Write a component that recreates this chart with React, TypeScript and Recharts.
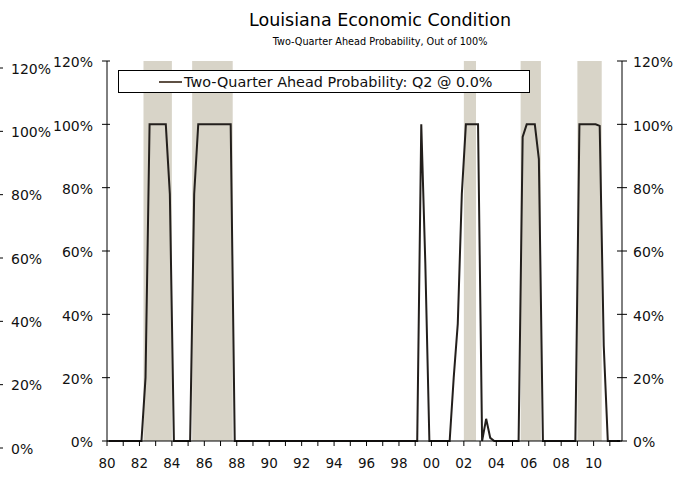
import React from 'react';
import {
  LineChart, Line, XAxis, YAxis, ReferenceArea,
} from 'recharts';

// quarterly probability (%), 1980Q1 .. 2011Q3
const startYear = 1980;
const probability = [
  0, 0, 0, 0, // 80
  0, 0, 0, 0, // 81
  0, 20, 100, 100, // 82
  100, 100, 100, 78, // 83
  0, 0, 0, 0, // 84
  0, 78, 100, 100, // 85
  100, 100, 100, 100, // 86
  100, 100, 100, 0, // 87
  0, 0, 0, 0, // 88
  0, 0, 0, 0, // 89
  0, 0, 0, 0, // 90
  0, 0, 0, 0, // 91
  0, 0, 0, 0, // 92
  0, 0, 0, 0, // 93
  0, 0, 0, 0, // 94
  0, 0, 0, 0, // 95
  0, 0, 0, 0, // 96
  0, 0, 0, 0, // 97
  0, 0, 0, 0, // 98
  0, 100, 56, 0, // 99
  0, 0, 0, 0, // 00
  0, 20, 37, 78, // 01
  100, 100, 100, 100, // 02
  0, 7, 1, 0, // 03
  0, 0, 0, 0, // 04
  0, 0, 96, 100, // 05
  100, 100, 89, 0, // 06
  0, 0, 0, 0, // 07
  0, 0, 0, 0, // 08
  100, 100, 100, 100, // 09
  100, 99.5, 30, 0, // 10
  0, 0, 0, // 11
];

// shaded periods [start, end] in fractional years
const bandStarts = [1982.25, 1985.25, 2002.0, 2005.5, 2009.0];
const bandEnds = [1984.0, 1987.75, 2002.75, 2006.75, 2010.5];

const yearTicks = Array.from({ length: 32 }, (_, i) => startYear + i);
const yTicks = [0, 20, 40, 60, 80, 100, 120];

const seriesName = 'Two-Quarter Ahead Probability: Q2 @ 0.0%';
const title = 'Louisiana Economic Condition';
const subtitle = 'Two-Quarter Ahead Probability, Out of 100%';

const data = probability.map((p, i) => ({ t: startYear + (i + 0.5) / 4, p }));
const xDomain = [startYear, startYear + probability.length / 4];

const FONT = '"DejaVu Sans", Verdana, sans-serif';
const TICK = 5;

function LeftTick({ x, y, payload }: any) {
  const ax = x + TICK + 9;
  return (
    <g>
      <line x1={ax - 5} x2={ax + 3} y1={y} y2={y} stroke="#000" />
      <text x={x} y={y} dy="0.45em" textAnchor="end" fontSize={14} fill="#111" fontFamily={FONT}>
        {`${payload.value}%`}
      </text>
    </g>
  );
}

function RightTick({ x, y, payload }: any) {
  const ax = x - TICK - 6;
  return (
    <g>
      <line x1={ax - 5} x2={ax + 5} y1={y} y2={y} stroke="#000" />
      <text x={x} y={y} dy="0.45em" textAnchor="start" fontSize={14} fill="#111" fontFamily={FONT}>
        {`${payload.value}%`}
      </text>
    </g>
  );
}

function GhostTick({ x, y, payload }: any) {
  const ax = x - TICK - 7;
  return (
    <g>
      <line x1={ax} x2={ax + 4} y1={y} y2={y} stroke="#000" />
      <text x={x} y={y} dy="0.4em" textAnchor="start" fontSize={14} fill="#111" fontFamily={FONT}>
        {`${payload.value}%`}
      </text>
    </g>
  );
}

function LegendBox() {
  return (
    <div style={{
      position: 'absolute', left: 118, top: 70,
      boxSizing: 'border-box', width: 412, height: 23, border: '1px solid #000', background: '#fff',
      display: 'flex', alignItems: 'center', fontFamily: FONT, fontSize: 14.4, color: '#111',
    }}>
      <span style={{ display: 'inline-block', width: 23, height: 0, borderTop: '2px solid #5e5044', marginLeft: 40, marginRight: 2 }} />
      <span>{seriesName}</span>
    </div>
  );
}

export default function App() {
  return (
    <div style={{ position: 'fixed', left: 0, top: 0, width: 686, height: 486, background: '#fff', overflow: 'hidden' }}>
      <div style={{ position: 'absolute', left: 0, width: 760, top: 10, textAlign: 'center', fontFamily: FONT, fontSize: 17.5, color: '#000' }}>
        {title}
      </div>
      <div style={{ position: 'absolute', left: 0, width: 760, top: 36, textAlign: 'center', fontFamily: FONT, fontSize: 9.7, color: '#000' }}>
        {subtitle}
      </div>

      {/* leftover axis at the far left edge */}
      <div style={{ position: 'absolute', left: -6, top: 0 }}>
        <LineChart width={60} height={486} data={data} margin={{ top: 68, right: 0, bottom: 38, left: 0 }}>
          <XAxis dataKey="t" type="number" domain={xDomain} hide />
          <YAxis
            yAxisId="g" orientation="right" type="number" domain={[0, 120]} ticks={yTicks} width={55}
            allowDataOverflow axisLine={false} tickLine={false} tickSize={TICK} tickMargin={7} tick={<GhostTick />}
          />
          <Line yAxisId="g" dataKey="p" stroke="none" dot={false} isAnimationActive={false} />
        </LineChart>
      </div>

      <div style={{ position: 'absolute', left: 0, top: 0 }}>
        <LineChart width={686} height={486} data={data} margin={{ top: 61, right: 10, bottom: 10, left: 47 }}>
          {bandStarts.map((s, i) => (
            <ReferenceArea key={i} yAxisId="l" x1={s} x2={bandEnds[i]} y1={0} y2={120} fill="#d8d4c8" fillOpacity={1} stroke="none" />
          ))}
          <XAxis
            dataKey="t" type="number" domain={xDomain} ticks={yearTicks} height={35}
            tickFormatter={(v: number) => (v % 2 === 0 ? String(v).slice(2) : '')}
            axisLine={{ stroke: '#000' }} tickLine={{ stroke: '#000' }} tickSize={TICK} tickMargin={12}
            tick={{ fontSize: 13.5, fill: '#111', fontFamily: FONT }}
          />
          <YAxis
            yAxisId="l" type="number" domain={[0, 120]} ticks={yTicks} width={60}
            axisLine={{ stroke: '#000' }} tickLine={false} tickSize={TICK} tickMargin={9} tick={<LeftTick />}
          />
          <YAxis
            yAxisId="r" orientation="right" type="number" domain={[0, 120]} ticks={yTicks} width={54}
            allowDataOverflow axisLine={{ stroke: '#000' }} tickLine={false} tickSize={TICK} tickMargin={6} tick={<RightTick />}
          />
          <Line yAxisId="r" dataKey="p" stroke="none" dot={false} isAnimationActive={false} legendType="none" />
          <Line
            yAxisId="l" dataKey="p" name={seriesName} type="linear" stroke="#231f1c" strokeWidth={2}
            dot={false} isAnimationActive={false}
          />
        </LineChart>
      </div>
      <LegendBox />
    </div>
  );
}
